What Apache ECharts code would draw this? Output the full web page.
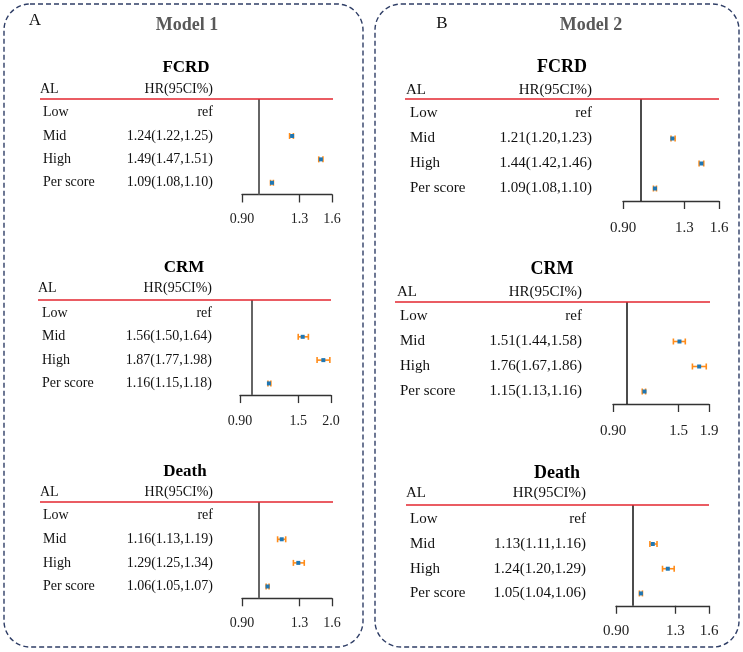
<!DOCTYPE html>
<html>
<head>
    <meta charset="utf-8">
    <script src="https://cdn.jsdelivr.net/npm/echarts@6/dist/echarts.min.js"></script>
    <style type="text/css">
        html, body { width: 100%; height: 100%; margin: 0; background: #fff; }
        #chart { width: 743px; height: 652px; }
    </style>
</head>
<body>
<div id="chart"></div>
<script type="text/javascript">
    // 数据
    var outcomes = ['FCRD', 'CRM', 'Death'];
    var models = ['Model 1', 'Model 2'];
    var panelTags = ['A', 'B'];
    var rowLabels = ['Low', 'Mid', 'High', 'Per score'];

    // [HR, lower, upper] for Mid, High, Per score (Low = ref)
    var m1Fcrd = [[1.24, 1.22, 1.25], [1.49, 1.47, 1.51], [1.09, 1.08, 1.10]];
    var m1Crm = [[1.56, 1.50, 1.64], [1.87, 1.77, 1.98], [1.16, 1.15, 1.18]];
    var m1Death = [[1.16, 1.13, 1.19], [1.29, 1.25, 1.34], [1.06, 1.05, 1.07]];
    var m2Fcrd = [[1.21, 1.20, 1.23], [1.44, 1.42, 1.46], [1.09, 1.08, 1.10]];
    var m2Crm = [[1.51, 1.44, 1.58], [1.76, 1.67, 1.86], [1.15, 1.13, 1.16]];
    var m2Death = [[1.13, 1.11, 1.16], [1.24, 1.20, 1.29], [1.05, 1.04, 1.06]];

    var ticksA = [0.90, 1.3, 1.6];
    var ticksLabelA = ['0.90', '1.3', '1.6'];
    var ticksCrm1 = [0.90, 1.5, 2.0];
    var ticksLabelCrm1 = ['0.90', '1.5', '2.0'];
    var ticksCrm2 = [0.90, 1.5, 1.9];
    var ticksLabelCrm2 = ['0.90', '1.5', '1.9'];

    var plotData = [m1Fcrd, m1Crm, m1Death, m2Fcrd, m2Crm, m2Death];
    var plotTicks = [ticksA, ticksCrm1, ticksA, ticksA, ticksCrm2, ticksA];
    var plotTickLabels = [ticksLabelA, ticksLabelCrm1, ticksLabelA, ticksLabelA, ticksLabelCrm2, ticksLabelA];

    // 布局
    var layouts = [
        {m: 0, p: 0, alX: 40, rowX: 43, valR: 213, redL: 40, redR: 333, axL: 242, axR: 332, top: 99, sp: 23.4, titleX: 186, titleY: 68, headY: 89, fs: 14, tfs: 17, lm: 18},
        {m: 0, p: 1, alX: 38, rowX: 42, valR: 212, redL: 38, redR: 331, axL: 240, axR: 331, top: 300, sp: 23.3, titleX: 184, titleY: 268, headY: 288, fs: 14, tfs: 17, lm: 19},
        {m: 0, p: 2, alX: 40, rowX: 43, valR: 213, redL: 40, redR: 333, axL: 242, axR: 332, top: 502, sp: 23.6, titleX: 185, titleY: 472, headY: 492, fs: 14, tfs: 17, lm: 18},
        {m: 1, p: 0, alX: 406, rowX: 410, valR: 592, redL: 405, redR: 719, axL: 623, axR: 719, top: 99, sp: 25, titleX: 562, titleY: 67, headY: 90, fs: 15, tfs: 18, lm: 20},
        {m: 1, p: 1, alX: 397, rowX: 400, valR: 582, redL: 395, redR: 710, axL: 613, axR: 709, top: 302, sp: 25, titleX: 552, titleY: 269, headY: 292, fs: 15, tfs: 18, lm: 20},
        {m: 1, p: 2, alX: 406, rowX: 410, valR: 586, redL: 406, redR: 709, axL: 616, axR: 709, top: 505, sp: 24.7, titleX: 557, titleY: 473, headY: 493, fs: 15, tfs: 18, lm: 18}
    ];

    var FONT = "'Liberation Serif', 'Times New Roman', serif";
    var Y_MIN = -0.58, Y_MAX = 3.5;

    var grids = [], xAxes = [], yAxes = [], series = [], graphics = [];

    // 外框
    [[4, 4, 359, 643], [375, 4, 364, 643]].forEach(function (b) {
        graphics.push({
            type: 'rect', shape: {x: b[0], y: b[1], width: b[2], height: b[3], r: 26},
            style: {fill: 'none', stroke: '#2f3e66', lineWidth: 1.4, lineDash: [5, 3]}
        });
    });
    [[35, 21], [442, 24]].forEach(function (pos, i) {
        graphics.push({type: 'text', x: pos[0], y: pos[1], style: {text: panelTags[i], font: '17px ' + FONT, fill: '#111', align: 'center', verticalAlign: 'middle'}});
    });
    [[187, 25], [591, 25]].forEach(function (pos, i) {
        graphics.push({type: 'text', x: pos[0], y: pos[1], style: {text: models[i], font: 'bold 18px ' + FONT, fill: '#595959', align: 'center', verticalAlign: 'middle'}});
    });

    layouts.forEach(function (L, k) {
        var ticks = plotTicks[k];
        var tickLabels = plotTickLabels[k];
        var lnTicks = ticks.map(function (t) { return Math.log(t); });
        var rows = plotData[k];

        grids.push({left: L.axL, top: L.top, width: L.axR - L.axL, height: (Y_MAX - Y_MIN) * L.sp});
        xAxes.push({
            gridIndex: k, type: 'value', min: lnTicks[0], max: lnTicks[lnTicks.length - 1],
            splitLine: {show: false},
            axisLine: {show: true, onZero: false, lineStyle: {color: '#333', width: 1.3}},
            axisTick: {show: true, length: 8, customValues: lnTicks, lineStyle: {color: '#333', width: 1.3}},
            axisLabel: {
                customValues: lnTicks, margin: L.lm, color: '#222',
                fontFamily: FONT, fontSize: L.fs,
                formatter: function (v) {
                    var best = 0;
                    lnTicks.forEach(function (t, i) { if (Math.abs(t - v) < Math.abs(lnTicks[best] - v)) best = i; });
                    return tickLabels[best];
                }
            }
        });
        yAxes.push({gridIndex: k, type: 'value', inverse: true, min: Y_MIN, max: Y_MAX, show: false});

        // 置信区间
        var ciData = rows.map(function (r, i) {
            return [Math.log(r[0]), Math.log(r[1]), Math.log(r[2]), i + 1];
        });
        series.push({
            type: 'custom', xAxisIndex: k, yAxisIndex: k, data: ciData,
            encode: {x: [0, 1, 2], y: 3},
            renderItem: function (params, api) {
                var row = api.value(3);
                var c = api.coord([api.value(0), row]);
                var a = api.coord([api.value(1), row]);
                var b = api.coord([api.value(2), row]);
                var orange = {stroke: '#ff8c1a', lineWidth: 1.6};
                return {
                    type: 'group', children: [
                        {type: 'line', shape: {x1: a[0], y1: a[1], x2: b[0], y2: b[1]}, style: orange},
                        {type: 'line', shape: {x1: a[0], y1: a[1] - 3, x2: a[0], y2: a[1] + 3}, style: orange},
                        {type: 'line', shape: {x1: b[0], y1: b[1] - 3, x2: b[0], y2: b[1] + 3}, style: orange},
                        {type: 'rect', shape: {x: c[0] - 2, y: c[1] - 2, width: 4, height: 4}, style: {fill: '#1f77b4'}}
                    ]
                };
            },
            markLine: {
                silent: true, symbol: ['none', 'none'], label: {show: false},
                lineStyle: {color: L.m === 0 ? '#666' : '#111', width: L.m === 0 ? 2 : 1.5, type: 'solid'},
                data: [{xAxis: 0}]
            },
            z: 3
        });

        // 表格文字
        var tableData = rowLabels.map(function (lab, i) {
            return [lnTicks[0], i];
        });
        series.push({
            type: 'custom', xAxisIndex: k, yAxisIndex: k, data: tableData, clip: false,
            renderItem: function (params, api) {
                var i = params.dataIndex;
                var y = api.coord([api.value(0), api.value(1)])[1];
                var valText = i === 0 ? 'ref' : rows[i - 1][0].toFixed(2) + '(' + rows[i - 1][1].toFixed(2) + ',' + rows[i - 1][2].toFixed(2) + ')';
                var font = L.fs + 'px ' + FONT;
                return {
                    type: 'group', children: [
                        {type: 'text', x: L.rowX, y: y, style: {text: rowLabels[i], font: font, fill: '#111', align: 'left', verticalAlign: 'middle'}},
                        {type: 'text', x: L.valR, y: y, style: {text: valText, font: font, fill: '#111', align: 'right', verticalAlign: 'middle'}}
                    ]
                };
            }
        });

        // 标题、表头、红线
        graphics.push({type: 'text', x: L.titleX, y: L.titleY, style: {text: outcomes[L.p], font: 'bold ' + L.tfs + 'px ' + FONT, fill: '#000', align: 'center', verticalAlign: 'middle'}});
        graphics.push({type: 'text', x: L.alX, y: L.headY, style: {text: 'AL', font: L.fs + 'px ' + FONT, fill: '#111', align: 'left', verticalAlign: 'middle'}});
        graphics.push({type: 'text', x: L.valR, y: L.headY, style: {text: 'HR(95CI%)', font: L.fs + 'px ' + FONT, fill: '#111', align: 'right', verticalAlign: 'middle'}});
        graphics.push({type: 'line', shape: {x1: L.redL, y1: L.top, x2: L.redR, y2: L.top}, style: {stroke: '#e3262f', lineWidth: 1.3}, z: 10});
    });

    var myChart = echarts.init(document.getElementById('chart'));
    myChart.setOption({
        animation: false,
        backgroundColor: '#fff',
        grid: grids,
        xAxis: xAxes,
        yAxis: yAxes,
        series: series,
        graphic: graphics
    });
</script>
</body>
</html>
